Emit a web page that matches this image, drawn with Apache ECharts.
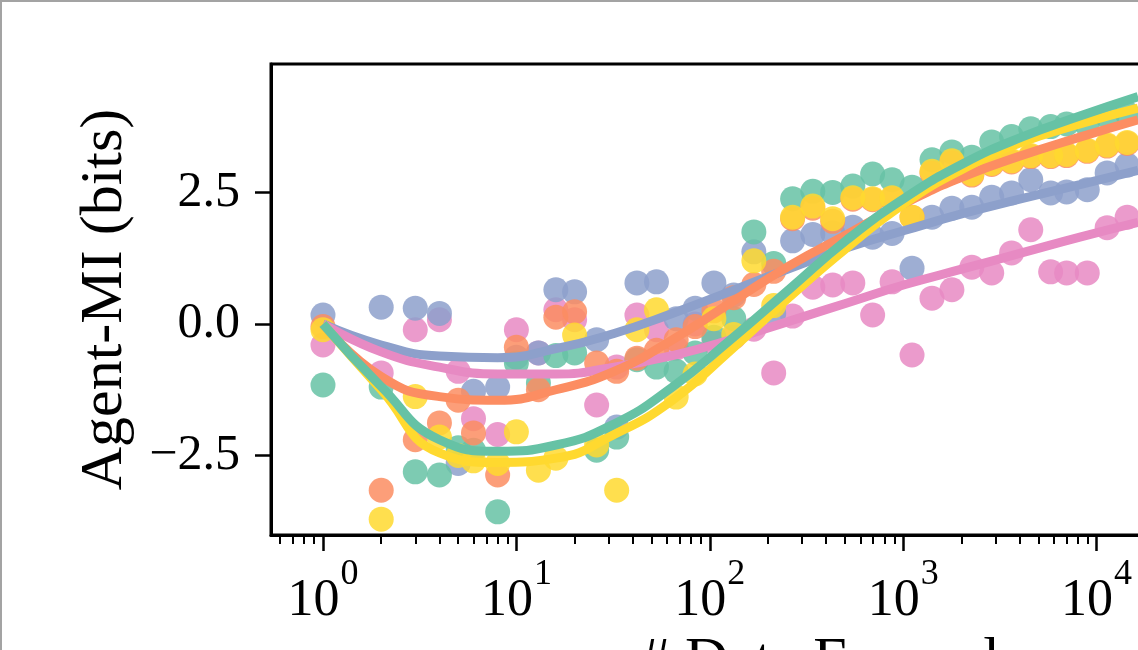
<!DOCTYPE html>
<html>
<head>
<meta charset="utf-8">
<script src="https://cdn.jsdelivr.net/npm/echarts@6/dist/echarts.min.js"></script>
<style>
html, body { margin: 0; padding: 0; background: #fff; }
#main { width: 1138px; height: 650px; }
#edge { position: absolute; left: 0; top: 0; width: 1138px; height: 650px; box-sizing: border-box;
        border-top: 2px solid #a3a3a3; border-left: 2px solid #a3a3a3; pointer-events: none; }
</style>
</head>
<body>
<div id="main"></div>
<div id="edge"></div>
<script>
// data examples (x) for the dots
var xVals = [1, 2, 3, 4, 5, 6, 8, 10, 13, 16, 20, 26, 33, 42, 53, 67, 84, 105, 133, 169, 214, 268, 341, 432, 549, 695, 876, 1111, 1409, 1786, 2264, 2869, 3634, 4566, 5787, 7000, 8948, 11337, 14390];

var blueY = [0.17, 0.32, 0.30, 0.20, -2.65, -1.28, -1.20, -0.63, -0.55, 0.65, 0.61, -0.30, -1.96, 0.78, 0.80, 0.10, 0.30, 0.78, 0.55, 1.37, 0.20, 1.58, 1.70, 1.73, 1.84, 1.65, 1.72, 1.06, 2.03, 2.20, 2.22, 2.41, 2.49, 2.74, 2.49, 2.51, 2.55, 2.87, 3.02];
var pinkY = [-0.40, -0.93, -0.11, 0.08, -0.90, -1.80, -2.10, -0.11, -0.55, 0.27, 0.08, -1.54, -0.82, 0.17, -0.11, -0.46, 0.00, -0.35, -0.25, -0.10, -0.93, 0.15, 0.70, 0.74, 0.78, 0.17, 0.80, -0.59, 0.49, 0.65, 1.08, 0.97, 1.35, 1.79, 0.99, 0.97, 0.97, 1.83, 2.03];
var orangeY = [-0.05, -3.16, -2.20, -1.88, -1.45, -2.07, -2.87, -0.44, -1.25, 0.13, 0.23, -0.74, -0.90, -0.65, -0.50, -0.30, -0.05, 0.25, 0.50, 0.75, 1.00, 2.00, 2.20, 1.95, 2.37, 2.36, 2.38, 2.03, 2.87, 3.07, 2.83, 3.03, 3.08, 3.18, 3.18, 3.20, 3.28, 3.38, 3.43];
var yellowY = [-0.11, -3.71, -1.38, -2.15, -2.50, -2.60, -2.65, -2.05, -2.78, -2.55, -0.21, -2.30, -3.16, -0.11, 0.27, -1.39, -0.95, 0.10, -0.20, 1.20, 0.35, 2.03, 2.24, 2.00, 2.40, 2.38, 2.40, 2.03, 2.90, 3.10, 2.85, 3.05, 3.10, 3.20, 3.20, 3.22, 3.30, 3.40, 3.45];
var greenY = [-1.16, -1.20, -2.81, -2.87, -2.35, -2.40, -3.57, -0.74, -1.12, -0.60, -0.55, -2.40, -2.15, -0.68, -0.82, -0.90, -0.55, -0.25, 0.10, 1.75, 1.15, 2.38, 2.52, 2.50, 2.62, 2.85, 2.74, 2.60, 3.12, 3.27, 3.17, 3.46, 3.56, 3.71, 3.75, 3.80, 3.78, 3.95, 4.00];

// fitted curves
var fitX = [1, 2, 4, 8, 16, 32, 64, 128, 256, 512, 1024, 2048, 4096, 8192, 16384];
var blueFit = [0.00, -0.40, -0.61, -0.64, -0.47, -0.18, 0.20, 0.62, 1.05, 1.45, 1.78, 2.10, 2.38, 2.65, 2.92];
var pinkFit = [0.00, -0.53, -0.82, -0.95, -0.95, -0.82, -0.60, -0.30, 0.05, 0.40, 0.75, 1.05, 1.35, 1.65, 1.93];
var orangeFit = [0.00, -1.00, -1.38, -1.45, -1.25, -0.90, -0.30, 0.40, 1.10, 1.70, 2.30, 2.80, 3.20, 3.55, 3.88];
var yellowFit = [0.00, -1.25, -2.45, -2.63, -2.55, -2.10, -1.45, -0.50, 0.50, 1.45, 2.30, 2.95, 3.45, 3.80, 4.10];
var greenFit = [0.00, -1.19, -2.20, -2.42, -2.30, -1.90, -1.20, -0.30, 0.65, 1.60, 2.40, 3.05, 3.55, 3.95, 4.32];

// ticks
var xMajor = [1, 10, 100, 1000, 10000, 100000];
var xMinor = [0.6, 0.7, 0.8, 0.9, 2, 3, 4, 5, 6, 7, 8, 9, 20, 30, 40, 50, 60, 70, 80, 90,
              200, 300, 400, 500, 600, 700, 800, 900, 2000, 3000, 4000, 5000, 6000, 7000, 8000, 9000,
              20000, 30000, 40000, 50000, 60000, 70000, 80000, 90000, 200000, 300000];
var yMajor = [-2.5, 0, 2.5];

var BLUE = '#8da0cb', PINK = '#e78ac3', ORANGE = '#fc8d62', YELLOW = '#ffd92f', GREEN = '#66c2a5';
var serif = 'Liberation Serif';

function pts(ys) { return xVals.map(function (x, i) { return [x, ys[i]]; }); }
function fit(ys) { return fitX.map(function (x, i) { return [x, ys[i]]; }); }

function dots(ys, color) {
    return { type: 'scatter', data: pts(ys), symbolSize: 25, z: 2,
             itemStyle: { color: color, opacity: 0.85 } };
}
function curve(ys, color) {
    return { type: 'line', data: fit(ys), smooth: true, showSymbol: false, z: 3,
             lineStyle: { color: color, width: 9 } };
}

var myChart = echarts.init(document.getElementById('main'));
var option = {
    animation: false,
    backgroundColor: '#fff',
    grid: { left: 271, right: -251, top: 64, bottom: 115, outerBoundsMode: 'none', containLabel: false,
            show: true, borderColor: '#000', borderWidth: 3 },
    xAxis: [
        {
            type: 'log', logBase: 10, min: 0.5385, max: 325000, position: 'bottom',
            name: '# Data Examples', nameLocation: 'middle', nameGap: 88,
            nameTextStyle: { fontFamily: serif, fontSize: 60, color: '#000', padding: [0, 0, 0, 30] },
            axisLine: { onZero: false, lineStyle: { color: '#000', width: 3 } },
            axisTick: { customValues: xMajor, length: 16, lineStyle: { color: '#000', width: 2.5 } },
            axisLabel: {
                customValues: xMajor, margin: 22,
                formatter: function (v) { return '{a|10}{b|' + Math.round(Math.log10(v)) + '}'; },
                rich: {
                    a: { fontFamily: serif, fontSize: 52, color: '#000' },
                    b: { fontFamily: serif, fontSize: 36, color: '#000', padding: [0, 0, 52, 1] }
                }
            },
            splitLine: { show: false }
        },
        {
            type: 'log', logBase: 10, min: 0.5385, max: 325000, position: 'bottom',
            axisLine: { show: false, onZero: false },
            axisTick: { customValues: xMinor, length: 9, lineStyle: { color: '#000', width: 2 } },
            axisLabel: { show: false },
            splitLine: { show: false }
        }
    ],
    yAxis: {
        type: 'value', min: -4.01, max: 4.94,
        name: 'Agent-MI (bits)', nameLocation: 'middle', nameGap: 136, nameRotate: 90,
        nameTextStyle: { fontFamily: serif, fontSize: 60, color: '#000' },
        axisLine: { show: true, onZero: false, lineStyle: { color: '#000', width: 3 } },
        axisTick: { show: true, customValues: yMajor, length: 16, lineStyle: { color: '#000', width: 2.5 } },
        axisLabel: {
            customValues: yMajor, margin: 31, fontFamily: serif, fontSize: 50, color: '#000',
            formatter: function (v) { return v.toFixed(1).replace('-', '\u2212'); }
        },
        splitLine: { show: false }
    },
    series: [
        dots(pinkY, PINK),
        dots(blueY, BLUE),
        dots(greenY, GREEN),
        dots(orangeY, ORANGE),
        dots(yellowY, YELLOW),
        curve(blueFit, BLUE),
        curve(pinkFit, PINK),
        curve(orangeFit, ORANGE),
        curve(yellowFit, YELLOW),
        curve(greenFit, GREEN)
    ]
};
myChart.setOption(option);
</script>
</body>
</html>
